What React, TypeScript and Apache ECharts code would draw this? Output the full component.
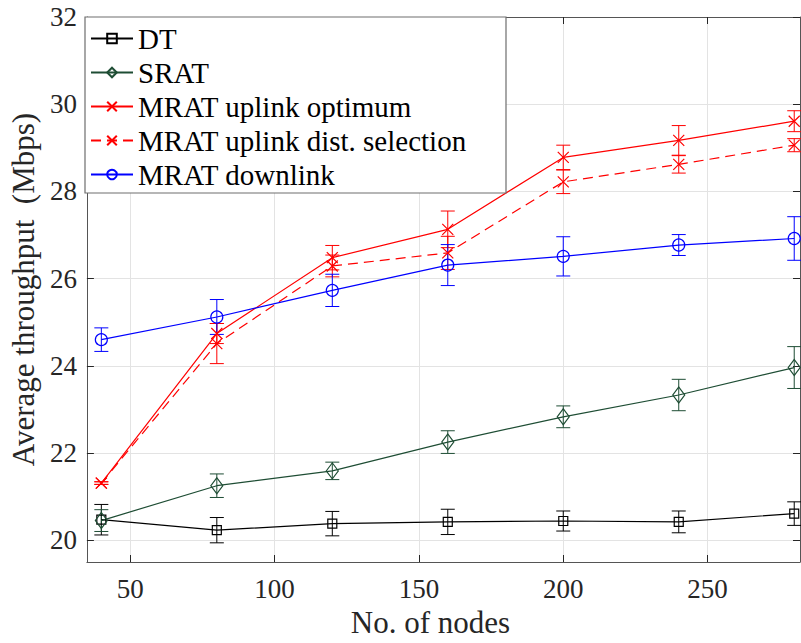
import React, { useEffect, useRef } from "react";
import * as echarts from "echarts";

const nodes = [40, 80, 120, 160, 200, 240, 280];
const xTicks = [50, 100, 150, 200, 250];
const yTicks = [20, 22, 24, 26, 28, 30, 32];

const dtMean = [20.47, 20.23, 20.38, 20.42, 20.44, 20.42, 20.61];
const dtErr = [0.35, 0.29, 0.28, 0.29, 0.23, 0.25, 0.27];
const sratMean = [20.45, 21.25, 21.59, 22.25, 22.83, 23.33, 23.96];
const sratErr = [0.25, 0.27, 0.2, 0.26, 0.25, 0.36, 0.48];
const optMean = [21.31, 24.74, 26.48, 27.13, 28.78, 29.17, 29.61];
const optErr = [0.03, 0.23, 0.28, 0.42, 0.28, 0.34, 0.24];
const distMean = [21.31, 24.51, 26.29, 26.59, 28.22, 28.62, 29.06];
const distErr = [0.03, 0.46, 0.25, 0.38, 0.27, 0.2, 0.15];
const downMean = [24.6, 25.12, 25.73, 26.31, 26.51, 26.77, 26.92];
const downErr = [0.27, 0.4, 0.37, 0.47, 0.45, 0.24, 0.5];

const seriesNames = [
  "DT",
  "SRAT",
  "MRAT uplink optimum",
  "MRAT uplink dist. selection",
  "MRAT downlink",
];

const FONT = "Liberation Serif";
const GREEN = "#1e4d34";
const X_PATH = "path://M0,0L10,10M10,0L0,10";

export default function App() {
  const ref = useRef<HTMLDivElement>(null);

  useEffect(() => {
    if (!ref.current) return;
    const chart = echarts.init(ref.current, undefined, { renderer: "svg" });

    const defs = [
      { name: seriesNames[0], mean: dtMean, err: dtErr, color: "#000000", symbol: "rect", size: 9, dash: "solid" },
      { name: seriesNames[1], mean: sratMean, err: sratErr, color: GREEN, symbol: "diamond", size: [12, 16], dash: "solid" },
      { name: seriesNames[2], mean: optMean, err: optErr, color: "#ff0000", symbol: X_PATH, size: 11, dash: "solid" },
      { name: seriesNames[3], mean: distMean, err: distErr, color: "#ff0000", symbol: X_PATH, size: 11, dash: [10, 6] },
      { name: seriesNames[4], mean: downMean, err: downErr, color: "#0000ff", symbol: "circle", size: 12, dash: "solid" },
    ];

    const series: any[] = [];
    defs.forEach((d) => {
      series.push({
        type: "custom",
        name: d.name + "_err",
        xAxisIndex: 0,
        yAxisIndex: 0,
        z: 3,
        data: nodes.map((n, i) => [n, d.mean[i] - d.err[i], d.mean[i] + d.err[i]]),
        renderItem: (params: any, api: any) => {
          const lo = api.coord([api.value(0), api.value(1)]);
          const hi = api.coord([api.value(0), api.value(2)]);
          const w = 7;
          const st = { stroke: d.color, lineWidth: 1 };
          return {
            type: "group",
            children: [
              { type: "line", shape: { x1: lo[0], y1: lo[1], x2: hi[0], y2: hi[1] }, style: st },
              { type: "line", shape: { x1: lo[0] - w, y1: lo[1], x2: lo[0] + w, y2: lo[1] }, style: st },
              { type: "line", shape: { x1: hi[0] - w, y1: hi[1], x2: hi[0] + w, y2: hi[1] }, style: st },
            ],
          };
        },
        silent: true,
      });
      series.push({
        type: "line",
        name: d.name,
        xAxisIndex: 0,
        yAxisIndex: 0,
        z: 3,
        data: nodes.map((n, i) => [n, d.mean[i]]),
        symbol: d.symbol,
        symbolSize: d.size,
        showAllSymbol: true,
        lineStyle: { color: d.color, width: 1.2, type: d.dash },
        itemStyle: { color: "rgba(0,0,0,0)", borderColor: d.color, borderWidth: 1.2 },
        emphasis: { disabled: true },
      });
    });

    const axisLineStyle = { color: "#555555", width: 1 };
    const tickStyle = { color: "#262626", width: 1 };

    chart.setOption({
      animation: false,
      backgroundColor: "#ffffff",
      grid: { left: 83, top: 17, right: 1, bottom: 81, containLabel: false },
      legend: {
        orient: "vertical",
        left: 90,
        top: 24,
        data: seriesNames,
        itemWidth: 42,
        itemHeight: 12,
        itemGap: 5,
        padding: 0,
        z: 6,
        textStyle: { fontFamily: FONT, fontSize: 29, color: "#000000", padding: [0, 0, 0, 0] },
        selectedMode: false,
      },
      graphic: [
        {
          type: "rect",
          z: 5,
          shape: { x: 85, y: 17, width: 421, height: 176 },
          style: { fill: "#ffffff", stroke: "#6e6e6e", lineWidth: 1.2 },
        },
      ],
      xAxis: [
        {
          type: "value",
          min: 35,
          max: 282,
          name: "No. of nodes",
          nameLocation: "middle",
          nameGap: 45,
          nameTextStyle: { fontFamily: FONT, fontSize: 31, color: "#262626", padding: [0, 26, 0, 0] },
          axisLine: { show: true, onZero: false, lineStyle: axisLineStyle },
          axisTick: { show: true, inside: true, length: 7, customValues: xTicks, lineStyle: tickStyle },
          axisLabel: { customValues: xTicks, fontFamily: FONT, fontSize: 27, color: "#262626", margin: 13 },
          splitLine: { show: true, lineStyle: { color: "#e3e3e3", width: 1 } },
        },
        {
          type: "value",
          position: "top",
          min: 35,
          max: 282,
          axisLine: { show: true, onZero: false, lineStyle: axisLineStyle },
          axisTick: { show: true, inside: true, length: 7, customValues: xTicks, lineStyle: tickStyle },
          axisLabel: { show: false, customValues: xTicks },
          splitLine: { show: false },
        },
      ],
      yAxis: [
        {
          type: "value",
          min: 19.5,
          max: 32,
          name: "Average throughput  (Mbps)",
          nameLocation: "middle",
          nameGap: 40,
          nameTextStyle: { fontFamily: FONT, fontSize: 31, color: "#262626" },
          axisLine: { show: true, onZero: false, lineStyle: axisLineStyle },
          axisTick: { show: true, inside: true, length: 7, customValues: yTicks, lineStyle: tickStyle },
          axisLabel: { customValues: yTicks, fontFamily: FONT, fontSize: 27, color: "#262626", margin: 10 },
          splitLine: { show: true, lineStyle: { color: "#e3e3e3", width: 1 } },
        },
        {
          type: "value",
          position: "right",
          min: 19.5,
          max: 32,
          axisLine: { show: true, onZero: false, lineStyle: axisLineStyle },
          axisTick: { show: true, inside: true, length: 7, customValues: yTicks, lineStyle: tickStyle },
          axisLabel: { show: false, customValues: yTicks },
          splitLine: { show: false },
        },
      ],
      series,
    });

    return () => chart.dispose();
  }, []);

  return (
    <div
      ref={ref}
      style={{ position: "fixed", left: 0, top: 0, width: 801, height: 643 }}
    />
  );
}
